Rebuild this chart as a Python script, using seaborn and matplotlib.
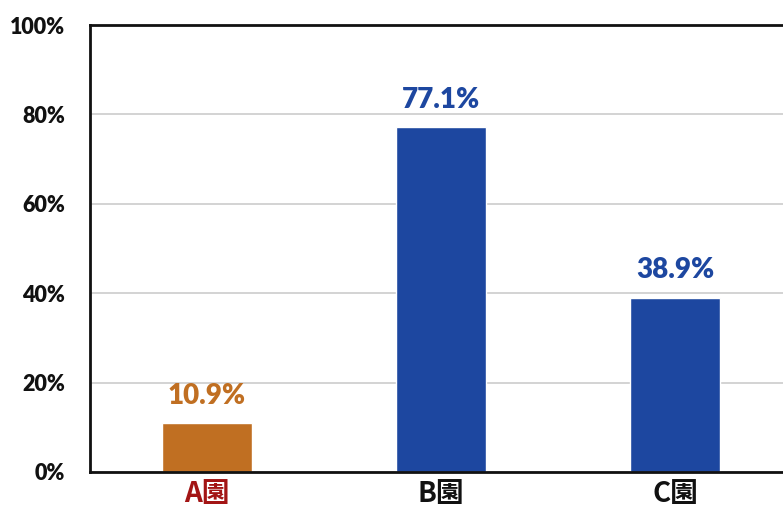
import matplotlib
matplotlib.use("Agg")
import matplotlib.pyplot as plt
import seaborn as sns
import pandas as pd

categories = ["A園", "B園", "C園"]
values = [10.9, 77.1, 38.9]
value_labels = ["10.9%", "77.1%", "38.9%"]
bar_colors = ["#C06F22", "#1D47A0", "#1D47A0"]
label_colors = ["#A31515", "#111111", "#111111"]
yticks = [0, 20, 40, 60, 80, 100]
ytick_labels = ["0%", "20%", "40%", "60%", "80%", "100%"]

sns.set_theme(style="white")
plt.rcParams['font.family'] = ['Lato', 'Noto Sans CJK JP', 'DejaVu Sans']

df = pd.DataFrame({"cat": categories, "val": values})

fig = plt.figure(figsize=(7.83, 5.12), dpi=100)
ax = fig.add_axes([90/783, 40/512, (792-90)/783, 447/512])

sns.barplot(data=df, x="cat", y="val", hue="cat", palette=bar_colors,
            width=0.385, legend=False, ax=ax, saturation=1)

ax.set_ylim(0, 100)
ax.set_xlim(-0.5, 2.5)
ax.set_yticks(yticks)
ax.set_yticklabels(ytick_labels, fontsize=15.5, fontweight="heavy", color="#111111")
ax.yaxis.grid(True, color="#cccccc", linewidth=1.2)
ax.set_axisbelow(True)
ax.tick_params(axis="y", length=0, pad=18)
ax.tick_params(axis="x", length=0, pad=6)
ax.set_xlabel("")
ax.set_ylabel("")
ax.set_xticks(range(len(categories)))
ax.set_xticklabels(categories, fontsize=20, fontweight="bold",
                   family=['Noto Sans CJK JP', 'DejaVu Sans'])
for t, c in zip(ax.get_xticklabels(), label_colors):
    t.set_color(c)

for i, (v, lab, c) in enumerate(zip(values, value_labels, bar_colors)):
    ax.text(i, v + 3.3, lab, ha="center", va="bottom", fontsize=20,
            fontweight="heavy", color=c)

for s in ["left", "top", "bottom"]:
    ax.spines[s].set_visible(True)
    ax.spines[s].set_color("#111111")
    ax.spines[s].set_linewidth(2)
ax.spines["right"].set_visible(False)

fig.savefig("out.png", dpi=100)
